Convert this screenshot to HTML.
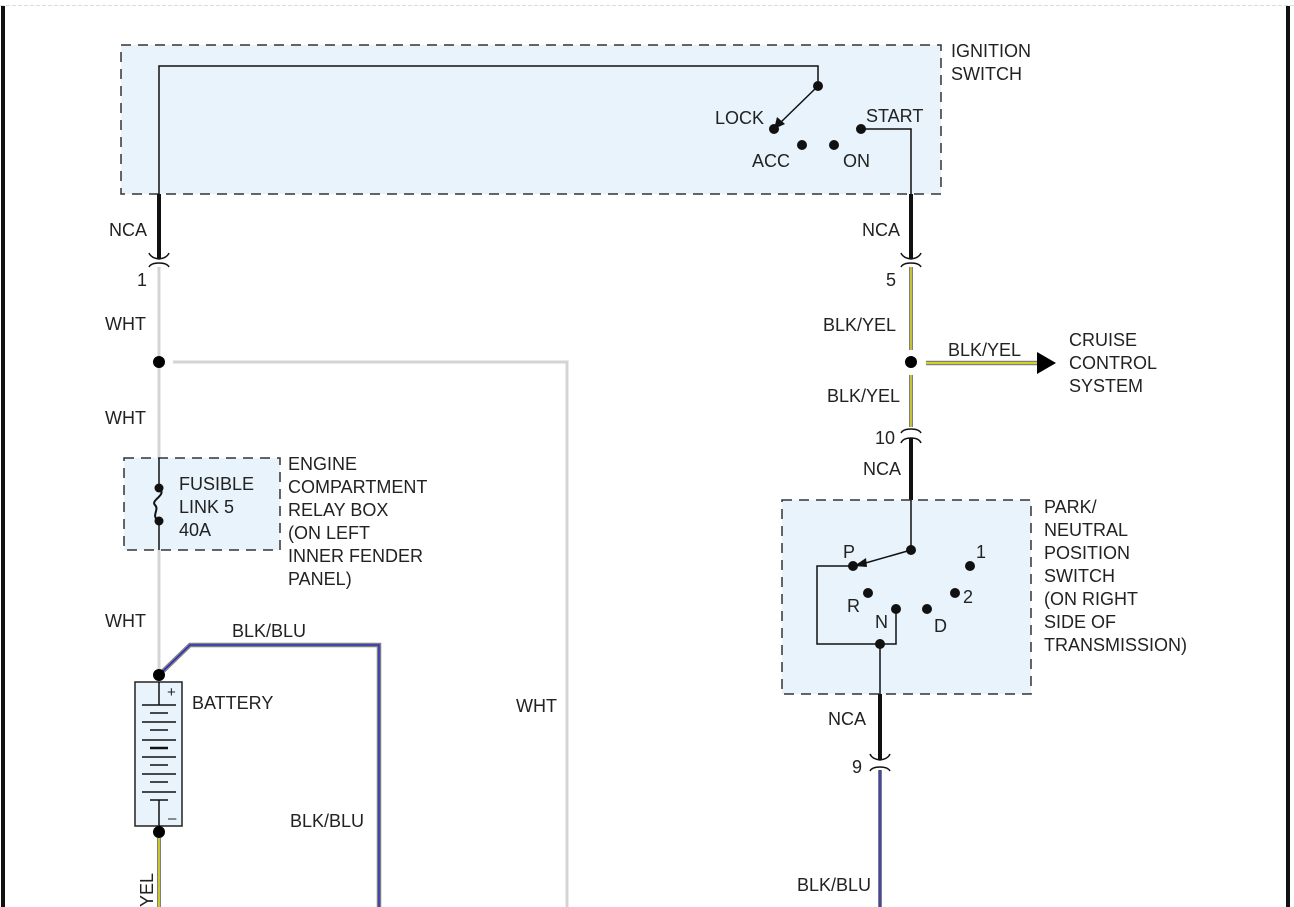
<!DOCTYPE html>
<html><head><meta charset="utf-8"><style>
html,body{margin:0;padding:0;background:#fff;}
svg{display:block;}
text{font-family:"Liberation Sans",Arial,sans-serif;font-size:18px;fill:#222;}
</style></head><body>
<svg width="1294" height="907" viewBox="0 0 1294 907" xmlns="http://www.w3.org/2000/svg">
<line x1="0" y1="5.5" x2="1294" y2="5.5" stroke="#ddd" stroke-width="1" stroke-dasharray="4,2"/>
<rect x="1" y="6" width="4" height="901" fill="#111"/>
<rect x="1286" y="6" width="4" height="901" fill="#111"/>

<rect x="121" y="45" width="820" height="149" fill="#e8f3fb" stroke="#333" stroke-width="1.5" stroke-dasharray="10,7"/>
<text x="951" y="57">IGNITION</text><text x="951" y="80">SWITCH</text>
<polyline points="159,194 159,66 818,66 818,86" fill="none" stroke="#111" stroke-width="1.5"/>
<circle cx="818" cy="86" r="5" fill="#111"/>
<line x1="818" y1="86" x2="779" y2="124" stroke="#111" stroke-width="1.5"/>
<polygon points="774,129 777,117 785,124" fill="#111"/>
<circle cx="774" cy="129" r="5" fill="#111"/>
<circle cx="802" cy="145" r="5" fill="#111"/>
<circle cx="834" cy="145" r="5" fill="#111"/>
<circle cx="861" cy="129" r="5" fill="#111"/>
<polyline points="861,129 911,129 911,194" fill="none" stroke="#111" stroke-width="1.5"/>
<text x="715" y="124">LOCK</text><text x="752" y="167">ACC</text><text x="843" y="167">ON</text><text x="866" y="122">START</text>

<line x1="159" y1="194" x2="159" y2="259" stroke="#111" stroke-width="4"/>
<path d="M149,253 Q151,258 159,259 Q167,258 169,253" fill="none" stroke="#111" stroke-width="1.5"/>
<path d="M149,267 Q151,263 159,263 Q167,263 169,267" fill="none" stroke="#111" stroke-width="1.5"/>
<text x="109" y="236">NCA</text><text x="137" y="286">1</text>
<line x1="159" y1="267" x2="159" y2="675" stroke="#d4d4d4" stroke-width="3"/>
<circle cx="159" cy="362" r="6" fill="#000"/>
<polyline points="173,362 567,362 567,907" fill="none" stroke="#d4d4d4" stroke-width="3"/>
<text x="105" y="330">WHT</text><text x="105" y="424">WHT</text><text x="105" y="627">WHT</text><text x="516" y="712">WHT</text>

<rect x="124" y="458" width="156" height="92" fill="#e8f3fb" stroke="#333" stroke-width="1.5" stroke-dasharray="10,7"/>
<line x1="159" y1="458" x2="159" y2="488" stroke="#111" stroke-width="1.5"/>
<line x1="159" y1="521" x2="159" y2="550" stroke="#111" stroke-width="1.5"/>
<path d="M159,488 C168,495 150,500 155,505 C160,510 150,516 159,521" fill="none" stroke="#111" stroke-width="2"/>
<circle cx="159" cy="488" r="4.5" fill="#111"/><circle cx="159" cy="521" r="4.5" fill="#111"/>
<text x="179" y="490">FUSIBLE</text><text x="179" y="513">LINK 5</text><text x="179" y="536">40A</text>
<text x="288" y="470">ENGINE</text><text x="288" y="493">COMPARTMENT</text><text x="288" y="516">RELAY BOX</text><text x="288" y="539">(ON LEFT</text><text x="288" y="562">INNER FENDER</text><text x="288" y="585">PANEL)</text>

<polyline points="159,675 190,645 379,645 379,907" fill="none" stroke="#808080" stroke-width="4.5"/>
<polyline points="159,675 190,645 379,645 379,907" fill="none" stroke="#22c" stroke-width="1.3"/>
<text x="232" y="637">BLK/BLU</text><text x="290" y="827">BLK/BLU</text>
<rect x="135" y="682" width="47" height="144" fill="#e8f3fb" stroke="#222" stroke-width="1.5"/>
<line x1="159" y1="682" x2="159" y2="705" stroke="#111" stroke-width="1.5"/>
<line x1="159" y1="800" x2="159" y2="826" stroke="#111" stroke-width="1.5"/>
<g stroke="#111" stroke-width="1.5">
<line x1="142" y1="705" x2="176" y2="705"/><line x1="150" y1="713" x2="168" y2="713"/>
<line x1="142" y1="722" x2="176" y2="722"/><line x1="150" y1="730" x2="168" y2="730"/>
<line x1="142" y1="740" x2="176" y2="740"/><line x1="150" y1="748" x2="168" y2="748" stroke-width="2.5"/>
<line x1="142" y1="757" x2="176" y2="757"/><line x1="150" y1="765" x2="168" y2="765"/>
<line x1="142" y1="774" x2="176" y2="774"/><line x1="150" y1="782" x2="168" y2="782"/>
<line x1="142" y1="792" x2="176" y2="792"/><line x1="150" y1="800" x2="168" y2="800"/>
</g>
<text x="167" y="697" style="font-size:15px">+</text><text x="168" y="823" style="font-size:15px">–</text>
<circle cx="159" cy="675" r="6" fill="#000"/><circle cx="159" cy="832" r="6" fill="#000"/>
<text x="192" y="709">BATTERY</text>
<line x1="159" y1="838" x2="159" y2="907" stroke="#808080" stroke-width="4"/>
<line x1="159" y1="838" x2="159" y2="907" stroke="#ee0" stroke-width="1.3"/>
<text transform="translate(153,907) rotate(-90)">YEL</text>

<line x1="911" y1="194" x2="911" y2="259" stroke="#111" stroke-width="4"/>
<path d="M901,253 Q903,258 911,259 Q919,258 921,253" fill="none" stroke="#111" stroke-width="1.5"/>
<path d="M901,267 Q903,263 911,263 Q919,263 921,267" fill="none" stroke="#111" stroke-width="1.5"/>
<text x="862" y="236">NCA</text><text x="886" y="286">5</text>
<g>
<line x1="911" y1="267" x2="911" y2="350" stroke="#808080" stroke-width="4"/><line x1="911" y1="267" x2="911" y2="350" stroke="#ee0" stroke-width="1.2"/>
<line x1="911" y1="375" x2="911" y2="427" stroke="#808080" stroke-width="4"/><line x1="911" y1="375" x2="911" y2="427" stroke="#ee0" stroke-width="1.2"/>
<line x1="926" y1="363" x2="1040" y2="363" stroke="#808080" stroke-width="4.5"/><line x1="926" y1="363" x2="1040" y2="363" stroke="#ee0" stroke-width="1.4"/>
</g>
<polygon points="1037,352 1056,363 1037,374" fill="#000"/>
<circle cx="911" cy="362" r="6" fill="#000"/>
<text x="823" y="331">BLK/YEL</text><text x="827" y="402">BLK/YEL</text><text x="948" y="356">BLK/YEL</text>
<text x="1069" y="346">CRUISE</text><text x="1069" y="369">CONTROL</text><text x="1069" y="392">SYSTEM</text>
<path d="M901,433 Q903,429 911,429 Q919,429 921,433" fill="none" stroke="#111" stroke-width="1.5"/>
<path d="M901,443 Q903,438 911,438 Q919,438 921,443" fill="none" stroke="#111" stroke-width="1.5"/>
<line x1="911" y1="438" x2="911" y2="500" stroke="#111" stroke-width="4"/>
<text x="875" y="444">10</text><text x="863" y="475">NCA</text>

<rect x="782" y="500" width="249" height="194" fill="#e8f3fb" stroke="#333" stroke-width="1.5" stroke-dasharray="10,7"/>
<line x1="911" y1="500" x2="911" y2="550" stroke="#111" stroke-width="1.5"/>
<circle cx="911" cy="550" r="5" fill="#111"/>
<line x1="911" y1="550" x2="862" y2="564" stroke="#111" stroke-width="1.5"/>
<polygon points="854,566 866,558 867,567" fill="#111"/>
<circle cx="853" cy="566" r="5" fill="#111"/>
<circle cx="868" cy="593" r="5" fill="#111"/>
<circle cx="896" cy="609" r="5" fill="#111"/>
<circle cx="927" cy="609" r="5" fill="#111"/>
<circle cx="955" cy="593" r="5" fill="#111"/>
<circle cx="970" cy="566" r="5" fill="#111"/>
<polyline points="853,566 817,566 817,644 896,644 896,609" fill="none" stroke="#111" stroke-width="1.5"/>
<circle cx="880" cy="644" r="5" fill="#111"/>
<line x1="880" y1="644" x2="880" y2="694" stroke="#111" stroke-width="1.5"/>
<text x="843" y="558">P</text><text x="976" y="558">1</text><text x="847" y="612">R</text><text x="963" y="603">2</text><text x="875" y="628">N</text><text x="934" y="632">D</text>
<text x="1044" y="513">PARK/</text><text x="1044" y="536">NEUTRAL</text><text x="1044" y="559">POSITION</text><text x="1044" y="582">SWITCH</text><text x="1044" y="605">(ON RIGHT</text><text x="1044" y="628">SIDE OF</text><text x="1044" y="651">TRANSMISSION)</text>
<line x1="880" y1="694" x2="880" y2="760" stroke="#111" stroke-width="4"/>
<path d="M870,754 Q872,759 880,760 Q888,759 890,754" fill="none" stroke="#111" stroke-width="1.5"/>
<path d="M870,771 Q872,767 880,767 Q888,767 890,771" fill="none" stroke="#111" stroke-width="1.5"/>
<text x="828" y="725">NCA</text><text x="852" y="773">9</text>
<line x1="880" y1="770" x2="880" y2="907" stroke="#808080" stroke-width="4"/>
<line x1="880" y1="770" x2="880" y2="907" stroke="#22c" stroke-width="1.3"/>
<text x="797" y="891">BLK/BLU</text>
</svg>
</body></html>
